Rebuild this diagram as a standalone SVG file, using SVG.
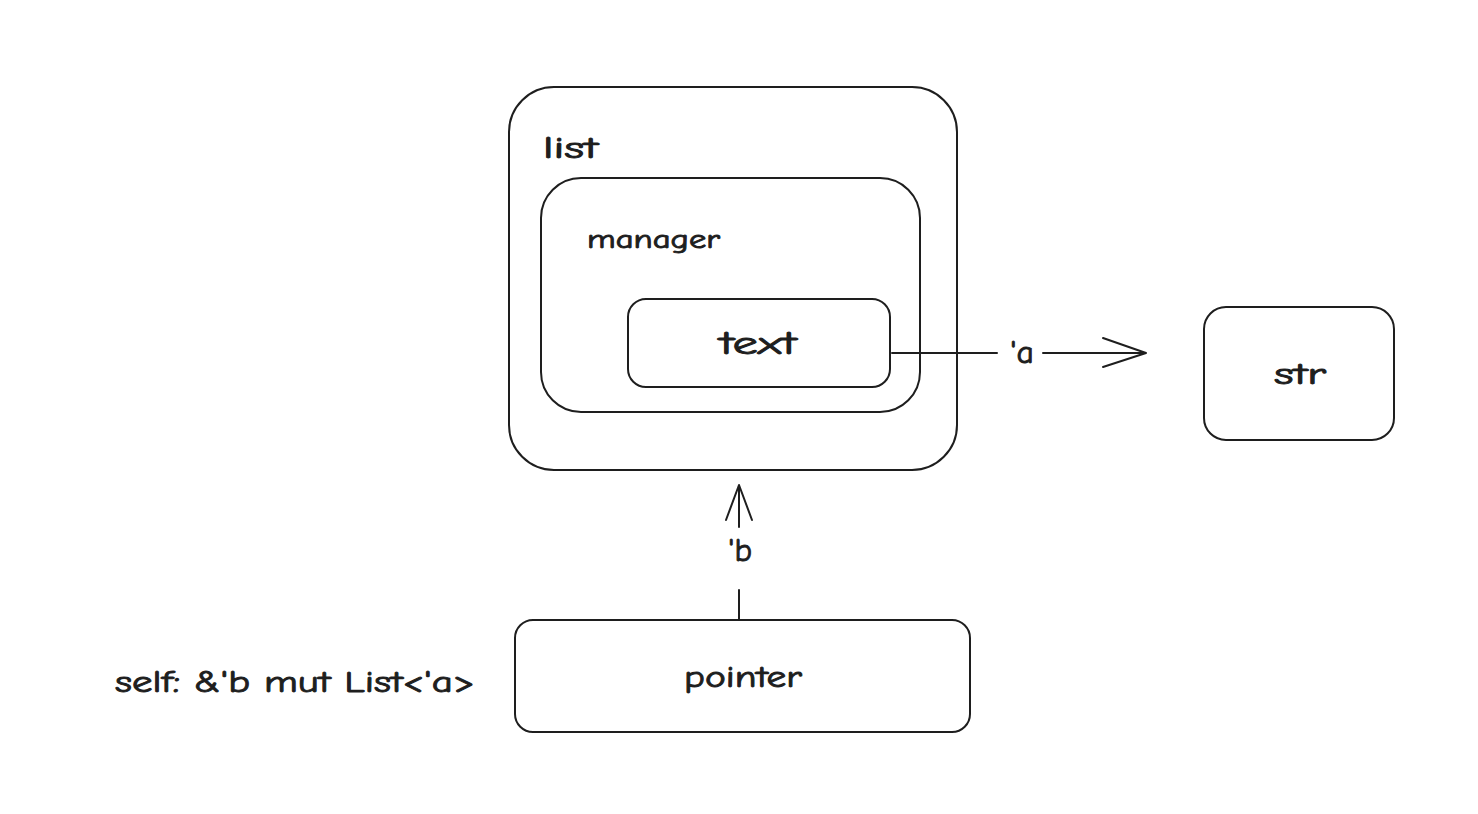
<svg xmlns="http://www.w3.org/2000/svg" width="1478" height="814" viewBox="0 0 1478 814">
<style>
.box{fill:none;stroke:#1e1e1e;stroke-width:2;}
.ln{fill:none;stroke:#1e1e1e;stroke-width:2;stroke-linecap:round;stroke-linejoin:round;}
.t{font-family:"Comic Neue","Liberation Sans",sans-serif;fill:#1e1e1e;stroke:#1e1e1e;stroke-width:0.9;}
</style>
<rect width="1478" height="814" fill="#ffffff"/>
<g id="node-list">
<rect class="box" x="509" y="87" width="448" height="383" rx="45"/>
<text class="t" x="543" y="158" font-size="30" textLength="55" lengthAdjust="spacingAndGlyphs">list</text>
</g>
<g id="node-manager">
<rect class="box" x="541" y="178" width="379" height="234" rx="40"/>
<text class="t" x="587" y="248" font-size="26" textLength="133" lengthAdjust="spacingAndGlyphs">manager</text>
</g>
<g id="node-text">
<rect class="box" x="628" y="299" width="262" height="88" rx="18"/>
<text class="t" x="758" y="354" font-size="32" text-anchor="middle" textLength="77" lengthAdjust="spacingAndGlyphs">text</text>
</g>
<g id="node-str">
<rect class="box" x="1204" y="307" width="190" height="133" rx="22"/>
<text class="t" x="1300" y="384" font-size="30" text-anchor="middle" textLength="52" lengthAdjust="spacingAndGlyphs">str</text>
</g>
<g id="node-pointer">
<rect class="box" x="515" y="620" width="455" height="112" rx="18"/>
<text class="t" x="743" y="687" font-size="30" text-anchor="middle" textLength="118" lengthAdjust="spacingAndGlyphs">pointer</text>
</g>
<g id="label-self">
<text class="t" x="115" y="692" font-size="30" textLength="360" lengthAdjust="spacingAndGlyphs">self: &amp;'b mut List&lt;'a&gt;</text>
</g>
<g id="connectors">
<path class="ln" d="M892 353 L997 353"/>
<path class="ln" d="M1043 353 L1145 353"/>
<path class="ln" d="M1103 338 L1146 353 L1103 367"/>
<text class="t" x="1022" y="363" font-size="32" text-anchor="middle" textLength="24" lengthAdjust="spacingAndGlyphs">'a</text>
<path class="ln" d="M739 620 L739 590"/>
<path class="ln" d="M739 527 L739 487"/>
<path class="ln" d="M726 520 L739 485 L752 520"/>
<text class="t" x="740" y="561" font-size="32" text-anchor="middle" textLength="24" lengthAdjust="spacingAndGlyphs">'b</text>
</g>
</svg>
